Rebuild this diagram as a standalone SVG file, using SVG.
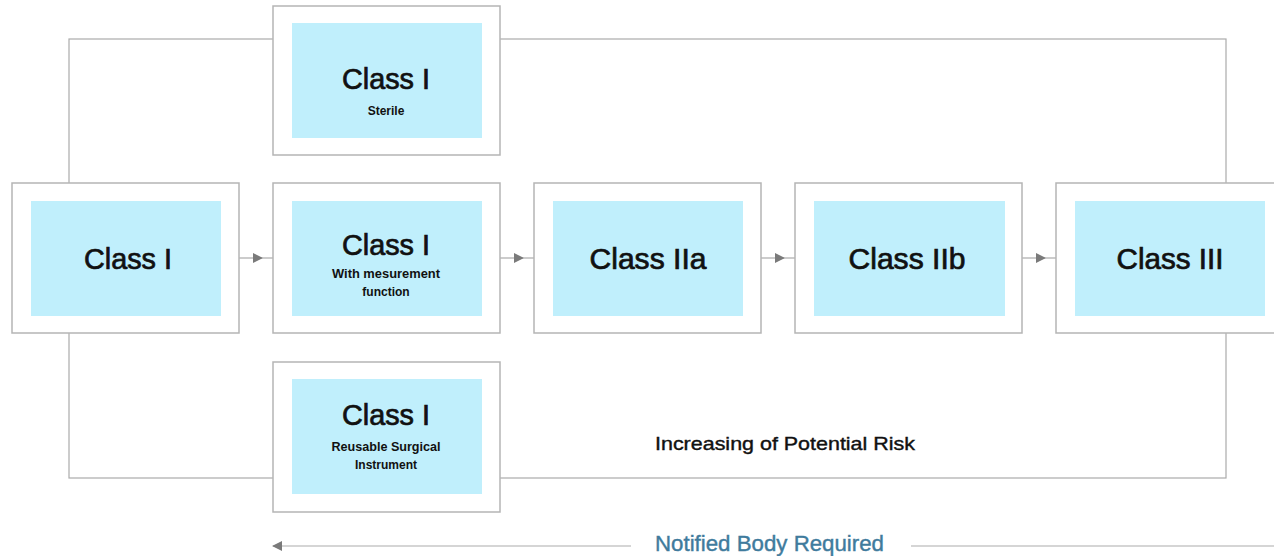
<svg xmlns="http://www.w3.org/2000/svg" width="1274" height="556" viewBox="0 0 1274 556">
<style>
.outer{fill:#ffffff;stroke:#b5b5b5;stroke-width:1.5}
.inner{fill:#c0effc}
.line{fill:none;stroke:#ababab;stroke-width:1.2}
.t{font-family:"Liberation Sans",Arial,sans-serif;fill:#111111;text-anchor:middle}
.main{font-size:29px;stroke:#111111;stroke-width:0.7}
.sub{font-size:12px;font-weight:bold}
.risk{font-family:"Liberation Sans",Arial,sans-serif;font-size:19px;fill:#111111;stroke:#111111;stroke-width:0.4}
.nb{font-family:"Liberation Sans",Arial,sans-serif;font-size:22px;fill:#3f7b9d;stroke:#3f7b9d;stroke-width:0.4}
</style>
<defs>
<marker id="arr" markerWidth="10" markerHeight="10" refX="9" refY="5" orient="auto" markerUnits="userSpaceOnUse">
<path d="M0,0 L10,5 L0,10 Z" fill="#7a7a7a"/>
</marker>
</defs>
<rect width="1274" height="556" fill="#ffffff"/>
<g id="connectors">
<rect class="line" x="69" y="39" width="1157" height="439"/>
<path class="line" d="M239,258 L262,258" marker-end="url(#arr)"/>
<path class="line" d="M262,258 L273,258"/>
<path class="line" d="M500,258 L523,258" marker-end="url(#arr)"/>
<path class="line" d="M523,258 L534,258"/>
<path class="line" d="M761,258 L784,258" marker-end="url(#arr)"/>
<path class="line" d="M784,258 L795,258"/>
<path class="line" d="M1022,258 L1045,258" marker-end="url(#arr)"/>
<path class="line" d="M1045,258 L1056,258"/>
<path class="line" d="M631,546 L273,546" marker-end="url(#arr)"/>
<path class="line" d="M911,546 L1274,546"/>
</g>
<g id="node-class1">
<rect class="outer" x="12" y="183" width="227" height="150"/>
<rect class="inner" x="31" y="201" width="190" height="115"/>
<text class="t main" x="128" y="269" textLength="88" lengthAdjust="spacingAndGlyphs">Class I</text>
</g>
<g id="node-sterile">
<rect class="outer" x="273" y="6" width="227" height="149"/>
<rect class="inner" x="292" y="23" width="190" height="115"/>
<text class="t main" x="386" y="89" textLength="88" lengthAdjust="spacingAndGlyphs">Class I</text>
<text class="t sub" x="386" y="115">Sterile</text>
</g>
<g id="node-measurement">
<rect class="outer" x="273" y="183" width="227" height="150"/>
<rect class="inner" x="292" y="201" width="190" height="115"/>
<text class="t main" x="386" y="255" textLength="88" lengthAdjust="spacingAndGlyphs">Class I</text>
<text class="t sub" x="386" y="278" textLength="108" lengthAdjust="spacingAndGlyphs">With mesurement</text>
<text class="t sub" x="386" y="296">function</text>
</g>
<g id="node-reusable">
<rect class="outer" x="273" y="362" width="227" height="150"/>
<rect class="inner" x="292" y="379" width="190" height="115"/>
<text class="t main" x="386" y="425" textLength="88" lengthAdjust="spacingAndGlyphs">Class I</text>
<text class="t sub" x="386" y="451" textLength="109" lengthAdjust="spacingAndGlyphs">Reusable Surgical</text>
<text class="t sub" x="386" y="469">Instrument</text>
</g>
<g id="node-class2a">
<rect class="outer" x="534" y="183" width="227" height="150"/>
<rect class="inner" x="553" y="201" width="190" height="115"/>
<text class="t main" x="648" y="269" textLength="117" lengthAdjust="spacingAndGlyphs">Class IIa</text>
</g>
<g id="node-class2b">
<rect class="outer" x="795" y="183" width="227" height="150"/>
<rect class="inner" x="814" y="201" width="191" height="115"/>
<text class="t main" x="907" y="269" textLength="117" lengthAdjust="spacingAndGlyphs">Class IIb</text>
</g>
<g id="node-class3">
<rect class="outer" x="1056" y="183" width="230" height="150"/>
<rect class="inner" x="1075" y="201" width="190" height="115"/>
<text class="t main" x="1170" y="269" textLength="107" lengthAdjust="spacingAndGlyphs">Class III</text>
</g>
<text class="risk" x="655" y="450" textLength="260" lengthAdjust="spacingAndGlyphs">Increasing of Potential Risk</text>
<text class="nb" x="655" y="551" textLength="229" lengthAdjust="spacingAndGlyphs">Notified Body Required</text>
</svg>
